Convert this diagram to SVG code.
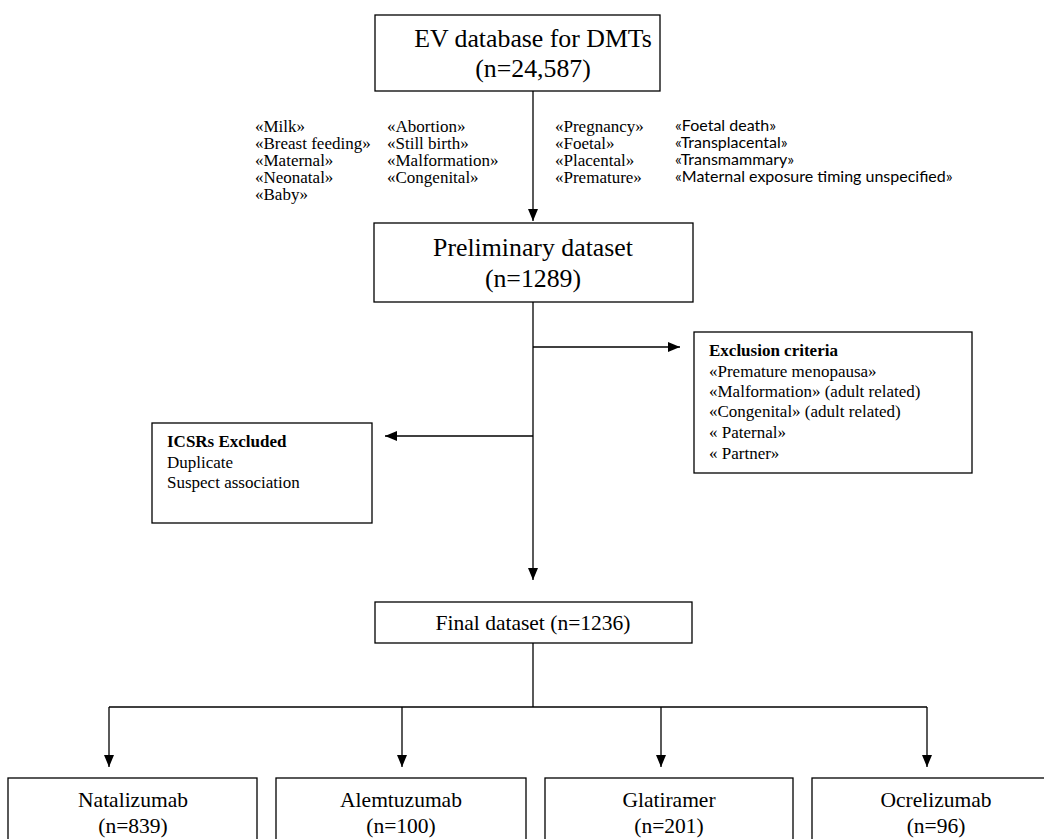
<svg xmlns="http://www.w3.org/2000/svg" width="1044" height="839" viewBox="0 0 1044 839">
<style>
.box{fill:#fff;stroke:#000;stroke-width:1.3}
.ln{fill:none;stroke:#000;stroke-width:1.3}
.s{font-family:"Liberation Serif","Times New Roman",serif;fill:#000}
.c{font-family:Lato,"Liberation Sans",sans-serif;fill:#000}
.t25{font-size:25.8px;text-anchor:middle}
.t24{font-size:25.8px;text-anchor:middle}
.t20{font-size:21.5px;text-anchor:middle}
.k{font-size:17px}
.kc{font-size:16px}
.e{font-size:17px}
.b{font-weight:bold}
</style>
<defs>
<marker id="ah" markerWidth="12" markerHeight="10" refX="12" refY="5" orient="auto" markerUnits="userSpaceOnUse">
<path d="M0,0 L12,5 L0,10 Z" fill="#000"/>
</marker>
</defs>
<rect width="1044" height="839" fill="#fff"/>
<g id="connectors">
<line class="ln" x1="533" y1="91" x2="533" y2="221" marker-end="url(#ah)"/>
<line class="ln" x1="533" y1="302" x2="533" y2="580" marker-end="url(#ah)"/>
<line class="ln" x1="533" y1="347" x2="680" y2="347" marker-end="url(#ah)"/>
<line class="ln" x1="533" y1="436" x2="385" y2="436" marker-end="url(#ah)"/>
<line class="ln" x1="533" y1="643" x2="533" y2="707"/>
<line class="ln" x1="109" y1="707" x2="927" y2="707"/>
<line class="ln" x1="109" y1="707" x2="109" y2="767" marker-end="url(#ah)"/>
<line class="ln" x1="402" y1="707" x2="402" y2="767" marker-end="url(#ah)"/>
<line class="ln" x1="661" y1="707" x2="661" y2="767" marker-end="url(#ah)"/>
<line class="ln" x1="927" y1="707" x2="927" y2="767" marker-end="url(#ah)"/>
</g>
<g id="ev-database">
<rect class="box" x="375" y="15" width="285" height="76"/>
<text class="s t25" x="533" y="47">EV database for DMTs</text>
<text class="s t25" x="533" y="77">(n=24,587)</text>
</g>
<g id="search-terms">
<text class="s k" x="255" y="132">«Milk»</text>
<text class="s k" x="255" y="149">«Breast feeding»</text>
<text class="s k" x="255" y="166">«Maternal»</text>
<text class="s k" x="255" y="183">«Neonatal»</text>
<text class="s k" x="255" y="200">«Baby»</text>
<text class="s k" x="387" y="132">«Abortion»</text>
<text class="s k" x="387" y="149">«Still birth»</text>
<text class="s k" x="387" y="166">«Malformation»</text>
<text class="s k" x="387" y="183">«Congenital»</text>
<text class="s k" x="555" y="132">«Pregnancy»</text>
<text class="s k" x="555" y="149">«Foetal»</text>
<text class="s k" x="555" y="166">«Placental»</text>
<text class="s k" x="555" y="183">«Premature»</text>
<text class="c kc" x="675" y="131">«Foetal death»</text>
<text class="c kc" x="675" y="148">«Transplacental»</text>
<text class="c kc" x="675" y="165">«Transmammary»</text>
<text class="c kc" x="675" y="182">«Maternal exposure timing unspecified»</text>
</g>
<g id="preliminary-dataset">
<rect class="box" x="374" y="223" width="319" height="79"/>
<text class="s t24" x="533" y="256">Preliminary dataset</text>
<text class="s t24" x="533" y="287">(n=1289)</text>
</g>
<g id="exclusion-criteria">
<rect class="box" x="694" y="332" width="278" height="141"/>
<text class="s e b" x="709" y="356">Exclusion criteria</text>
<text class="s e" x="709" y="377">«Premature menopausa»</text>
<text class="s e" x="709" y="397">«Malformation» (adult related)</text>
<text class="s e" x="709" y="417">«Congenital» (adult related)</text>
<text class="s e" x="709" y="438">« Paternal»</text>
<text class="s e" x="709" y="459">« Partner»</text>
</g>
<g id="icsrs-excluded">
<rect class="box" x="152" y="423" width="220" height="100"/>
<text class="s e b" x="167" y="447">ICSRs Excluded</text>
<text class="s e" x="167" y="468">Duplicate</text>
<text class="s e" x="167" y="488">Suspect association</text>
</g>
<g id="final-dataset">
<rect class="box" x="375" y="602" width="317" height="41"/>
<text class="s t20" x="533" y="630">Final dataset (n=1236)</text>
</g>
<g id="natalizumab">
<rect class="box" x="8" y="778" width="249" height="80"/>
<text class="s t20" x="133" y="807">Natalizumab</text>
<text class="s t20" x="133" y="833">(n=839)</text>
</g>
<g id="alemtuzumab">
<rect class="box" x="276" y="778" width="250" height="80"/>
<text class="s t20" x="401" y="807">Alemtuzumab</text>
<text class="s t20" x="401" y="833">(n=100)</text>
</g>
<g id="glatiramer">
<rect class="box" x="545" y="778" width="248" height="80"/>
<text class="s t20" x="669" y="807">Glatiramer</text>
<text class="s t20" x="669" y="833">(n=201)</text>
</g>
<g id="ocrelizumab">
<rect class="box" x="812" y="778" width="249" height="80"/>
<text class="s t20" x="936" y="807">Ocrelizumab</text>
<text class="s t20" x="936" y="833">(n=96)</text>
</g>
</svg>
